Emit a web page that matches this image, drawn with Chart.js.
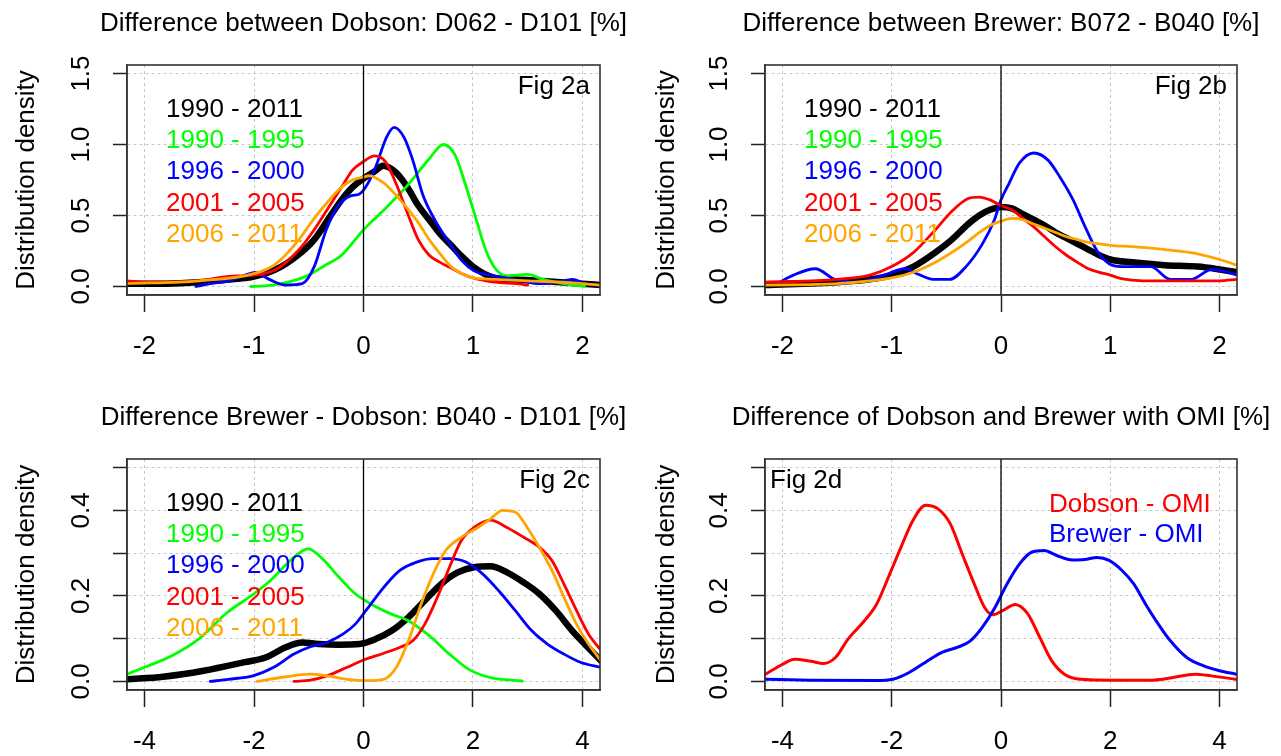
<!DOCTYPE html>
<html><head><meta charset="utf-8">
<script src="https://cdn.jsdelivr.net/npm/chart.js@4.4.1/dist/chart.umd.min.js"></script>
<style>
html,body{margin:0;padding:0;background:#fff;width:1281px;height:756px;overflow:hidden;}
canvas{position:absolute;}
</style></head><body>
<canvas id="pa" width="640" height="378" style="left:0px;top:0px"></canvas>
<canvas id="pb" width="641" height="378" style="left:640px;top:0px"></canvas>
<canvas id="pc" width="640" height="378" style="left:0px;top:378px"></canvas>
<canvas id="pd" width="641" height="378" style="left:640px;top:378px"></canvas>
<script>
// ---------- labels ----------
const periods = ['1990 - 2011', '1990 - 1995', '1996 - 2000', '2001 - 2005', '2006 - 2011'];
const omiLabels = ['Dobson - OMI', 'Brewer - OMI'];
const titles = [
  'Difference between Dobson: D062 - D101 [%]',
  'Difference between Brewer: B072 - B040 [%]',
  'Difference Brewer - Dobson: B040 - D101 [%]',
  'Difference of Dobson and Brewer with OMI [%]'
];
const figLabels = ['Fig 2a', 'Fig 2b', 'Fig 2c', 'Fig 2d'];
const yTitle = 'Distribution density';

// ---------- ticks ----------
const abXTicks = [-2, -1, 0, 1, 2];
const abXLabels = ['-2', '-1', '0', '1', '2'];
const abYTicks = [0, 0.5, 1.0, 1.5];
const abYLabels = ['0.0', '0.5', '1.0', '1.5'];
const cdXTicks = [-4, -2, 0, 2, 4];
const cdXLabels = ['-4', '-2', '0', '2', '4'];
const cdYTicks = [0, 0.1, 0.2, 0.3, 0.4, 0.5];
const cdYLabels = ['0.0', '', '0.2', '', '0.4', ''];

// ---------- Fig 2a ----------
const aAllX = [-2.16,-1.8,-1.5,-1.2,-1.0,-0.8,-0.6,-0.45,-0.3,-0.2,-0.1,0,0.1,0.18,0.3,0.4,0.5,0.6,0.7,0.8,0.9,1.0,1.1,1.2,1.4,1.6,1.8,2.0,2.16];
const aAllY = [0.02,0.02,0.03,0.05,0.07,0.12,0.22,0.33,0.50,0.61,0.70,0.76,0.81,0.85,0.80,0.70,0.57,0.47,0.37,0.29,0.21,0.14,0.09,0.06,0.05,0.04,0.03,0.02,0.01];
const aG1X = [-1.03,-0.9,-0.75,-0.6,-0.5,-0.35,-0.2,0,0.2,0.4,0.6,0.73,0.84,0.93,1.03,1.12,1.21,1.31,1.4,1.5,1.64,1.83,2.02];
const aG1Y = [0.0,0.005,0.02,0.05,0.08,0.15,0.22,0.40,0.55,0.71,0.90,1.0,0.92,0.72,0.47,0.25,0.12,0.075,0.08,0.085,0.05,0.02,0.0];
const aG2X = [-1.53,-1.4,-1.23,-1.08,-0.99,-0.86,-0.71,-0.56,-0.45,-0.34,-0.22,-0.11,-0.04,0.02,0.11,0.21,0.28,0.37,0.45,0.54,0.65,0.79,0.9,1.01,1.16,1.38,1.61,1.83,1.91,2.02,2.16];
const aG2Y = [0.0,0.02,0.04,0.08,0.10,0.05,0.01,0.02,0.14,0.40,0.58,0.64,0.65,0.70,0.84,1.05,1.12,1.05,0.89,0.65,0.47,0.30,0.18,0.11,0.08,0.05,0.02,0.04,0.05,0.02,0.01];
const aG3X = [-2.16,-2.0,-1.5,-1.25,-1.0,-0.8,-0.6,-0.45,-0.3,-0.2,-0.1,0,0.1,0.2,0.3,0.4,0.5,0.6,0.7,0.8,0.9,1.0,1.2,1.4,1.5];
const aG3Y = [0.04,0.03,0.04,0.07,0.08,0.12,0.25,0.40,0.58,0.70,0.82,0.88,0.92,0.88,0.72,0.52,0.33,0.22,0.17,0.13,0.09,0.06,0.03,0.02,0.01];
const aG4X = [-2.16,-1.5,-1.0,-0.8,-0.6,-0.45,-0.3,-0.2,-0.1,0,0.05,0.1,0.2,0.3,0.4,0.5,0.6,0.7,0.8,0.9,1.0,1.2,1.5,1.8,2.0,2.16];
const aG4Y = [0.02,0.04,0.09,0.16,0.32,0.48,0.62,0.70,0.75,0.77,0.78,0.77,0.72,0.64,0.55,0.45,0.33,0.23,0.14,0.09,0.06,0.05,0.04,0.03,0.02,0.01];

// ---------- Fig 2b ----------
const bAllX = [-2.16,-1.5,-1.2,-1.0,-0.8,-0.6,-0.45,-0.3,-0.2,-0.1,0,0.1,0.2,0.3,0.4,0.5,0.6,0.7,0.8,0.9,1.0,1.2,1.5,1.8,2.0,2.16];
const bAllY = [0.01,0.03,0.05,0.08,0.14,0.24,0.33,0.44,0.50,0.54,0.56,0.55,0.51,0.47,0.43,0.38,0.34,0.30,0.26,0.22,0.19,0.17,0.15,0.14,0.12,0.10];
const bG2X = [-2.05,-1.9,-1.7,-1.52,-1.33,-1.07,-0.88,-0.77,-0.62,-0.47,-0.32,-0.17,-0.06,0,0.07,0.17,0.3,0.43,0.54,0.66,0.77,0.88,0.99,1.1,1.37,1.55,1.74,1.93,2.08,2.16];
const bG2Y = [0.02,0.08,0.125,0.05,0.03,0.08,0.125,0.09,0.05,0.05,0.14,0.30,0.47,0.61,0.72,0.87,0.94,0.89,0.77,0.61,0.42,0.25,0.16,0.14,0.14,0.05,0.05,0.12,0.10,0.08];
const bG3X = [-2.16,-1.5,-1.2,-1.0,-0.8,-0.6,-0.45,-0.3,-0.2,-0.1,0,0.1,0.2,0.3,0.4,0.5,0.6,0.7,0.8,0.9,1.0,1.1,1.3,1.6,2.0,2.16];
const bG3Y = [0.03,0.05,0.08,0.14,0.24,0.40,0.53,0.62,0.63,0.61,0.57,0.54,0.48,0.42,0.35,0.28,0.22,0.17,0.125,0.10,0.08,0.055,0.04,0.04,0.04,0.05];
const bG4X = [-2.16,-1.5,-1.0,-0.8,-0.6,-0.45,-0.3,-0.2,-0.1,0,0.1,0.2,0.3,0.4,0.5,0.6,0.7,0.8,0.9,1.0,1.2,1.5,1.8,2.0,2.16];
const bG4Y = [0.01,0.02,0.06,0.10,0.17,0.24,0.32,0.38,0.43,0.46,0.48,0.47,0.44,0.41,0.38,0.35,0.33,0.31,0.30,0.29,0.28,0.26,0.23,0.19,0.15];

// ---------- Fig 2c ----------
const cAllX = [-4.32,-3.66,-2.92,-2.17,-1.79,-1.42,-1.12,-0.82,-0.45,-0.07,0.22,0.52,0.82,1.12,1.42,1.72,2.02,2.32,2.62,2.92,3.21,3.51,3.81,4.04,4.34];
const cAllY = [0.005,0.011,0.025,0.045,0.056,0.08,0.091,0.0875,0.086,0.0875,0.099,0.119,0.15,0.189,0.228,0.255,0.267,0.269,0.255,0.232,0.205,0.166,0.119,0.0875,0.048];
const cG1X = [-4.32,-4.0,-3.5,-3.0,-2.5,-2.0,-1.7,-1.4,-1.12,-1.01,-0.75,-0.45,-0.15,0.15,0.5,0.82,1.2,1.57,1.94,2.32,2.9];
const cG1Y = [0.017,0.033,0.06,0.10,0.16,0.205,0.236,0.275,0.305,0.31,0.287,0.244,0.205,0.18,0.158,0.142,0.107,0.064,0.027,0.009,0.001];
const cG2X = [-2.8,-2.47,-2.02,-1.64,-1.27,-0.97,-0.67,-0.37,-0.15,0.07,0.37,0.67,0.97,1.27,1.57,1.87,2.17,2.47,2.77,3.07,3.36,3.66,3.96,4.34];
const cG2Y = [0.0,0.005,0.013,0.033,0.064,0.081,0.091,0.111,0.134,0.17,0.22,0.26,0.279,0.287,0.287,0.279,0.252,0.212,0.166,0.119,0.0875,0.064,0.045,0.033];
const cG3X = [-1.27,-0.97,-0.67,-0.3,0,0.37,0.67,0.9,1.12,1.35,1.57,1.79,2.02,2.32,2.62,2.92,3.21,3.44,3.66,3.89,4.11,4.34];
const cG3Y = [0.0,0.003,0.013,0.033,0.05,0.066,0.08,0.095,0.134,0.197,0.267,0.33,0.36,0.377,0.36,0.3375,0.314,0.283,0.228,0.166,0.111,0.072];
const cG4X = [-1.94,-1.42,-0.97,-0.67,-0.3,0.07,0.37,0.6,0.82,1.05,1.27,1.5,1.79,2.09,2.32,2.54,2.77,2.99,3.21,3.44,3.66,3.89,4.11,4.34];
const cG4Y = [0.0,0.011,0.017,0.013,0.005,0.002,0.005,0.033,0.095,0.18,0.25,0.306,0.3375,0.36,0.38,0.40,0.396,0.36,0.314,0.26,0.197,0.134,0.0875,0.048];

// ---------- Fig 2d ----------
const dDobX = [-4.31,-4.0,-3.78,-3.48,-3.25,-3.03,-2.8,-2.5,-2.28,-2.06,-1.83,-1.61,-1.38,-1.16,-0.93,-0.71,-0.49,-0.3,-0.15,0.04,0.26,0.49,0.71,0.93,1.16,1.46,2.0,2.73,3.1,3.55,3.85,4.3];
const dDobY = [0.017,0.04,0.052,0.047,0.042,0.056,0.099,0.142,0.18,0.244,0.314,0.377,0.412,0.404,0.369,0.298,0.228,0.173,0.156,0.166,0.18,0.158,0.103,0.048,0.017,0.005,0.003,0.003,0.008,0.017,0.013,0.005];
const dBreX = [-4.31,-3.5,-2.28,-1.98,-1.68,-1.38,-1.08,-0.79,-0.56,-0.34,-0.11,0.11,0.34,0.56,0.79,1.01,1.31,1.53,1.76,1.98,2.21,2.43,2.65,2.88,3.1,3.4,3.7,4.0,4.3];
const dBreY = [0.005,0.003,0.002,0.005,0.021,0.045,0.068,0.08,0.095,0.127,0.173,0.228,0.275,0.302,0.306,0.295,0.284,0.285,0.29,0.283,0.26,0.228,0.18,0.134,0.095,0.056,0.037,0.025,0.017];

// ---------- styling ----------
const FONT = "'Liberation Sans', Arial, Helvetica, sans-serif";
const periodColors = ['#000000', '#00ff00', '#0000ff', '#ff0000', '#ffa500'];
const omiColors = ['#ff0000', '#0000ff'];

function pts(xs, ys) { return xs.map((x, i) => ({ x: x, y: ys[i] })); }
function ds(label, xs, ys, color, width) {
  return { label: label, data: pts(xs, ys), borderColor: color, backgroundColor: color,
    borderWidth: width, pointRadius: 0, fill: false, cubicInterpolationMode: 'monotone',
    borderJoinStyle: 'round', borderCapStyle: 'round' };
}

function makeDecor(cfg) {
  return {
    id: 'decor_' + cfg.id,
    afterDatasetsDraw(chart) {
      const ctx = chart.ctx, a = chart.chartArea, xs = chart.scales.x;
      ctx.save();
      const px = xs.getPixelForValue(0);
      ctx.strokeStyle = '#000'; ctx.lineWidth = 1.3; ctx.setLineDash([]);
      ctx.beginPath(); ctx.moveTo(px, a.top); ctx.lineTo(px, a.bottom); ctx.stroke();
      ctx.lineWidth = 1.6; ctx.strokeStyle = '#333';
      ctx.strokeRect(a.left, a.top, a.right - a.left, a.bottom - a.top);
      ctx.font = '26px ' + FONT; ctx.textBaseline = 'alphabetic';
      ctx.fillStyle = '#000'; ctx.textAlign = 'center';
      ctx.fillText(cfg.title, (a.left + a.right) / 2, a.top - 34);
      ctx.textAlign = cfg.figAlign;
      ctx.fillText(cfg.fig, cfg.figAlign === 'right' ? a.right - 10 : a.left + 5, a.top + 28.5);
      ctx.textAlign = 'left';
      cfg.legend.forEach((t, i) => {
        ctx.fillStyle = cfg.legendColors[i];
        ctx.fillText(t, a.left + cfg.legendDX, a.top + cfg.legendDY + i * cfg.legendGap);
      });
      ctx.restore();
    }
  };
}

function makeChart(cfg) {
  const tickFont = { family: FONT, size: 26 };
  return new Chart(document.getElementById(cfg.id), {
    type: 'line',
    data: { datasets: cfg.datasets },
    options: {
      responsive: false, animation: false, events: [],
      layout: { padding: { top: cfg.top, right: cfg.padRight, left: 0, bottom: 0 } },
      plugins: { legend: { display: false }, tooltip: { enabled: false }, title: { display: false } },
      scales: {
        x: {
          type: 'linear', min: cfg.xMin, max: cfg.xMax,
          afterBuildTicks: s => { s.ticks = cfg.xTicks.map(v => ({ value: v })); },
          afterFit: s => { s.height = cfg.xHeight; },
          ticks: { autoSkip: false, maxRotation: 0, minRotation: 0, padding: 19, color: '#000', font: tickFont,
            callback: (v, i) => cfg.xLabels[i] },
          grid: { color: '#c8c8c8', lineWidth: 1, tickLength: 17, tickColor: '#222', tickWidth: 1.5 },
          border: { display: true, color: '#333', width: 1.5, dash: [3, 3] }
        },
        y: {
          type: 'linear', min: cfg.yMin, max: cfg.yMax,
          afterBuildTicks: s => { s.ticks = cfg.yTicks.map(v => ({ value: v })); },
          afterFit: s => { s.width = cfg.yWidth; },
          ticks: { autoSkip: false, minRotation: 90, maxRotation: 90, crossAlign: 'center', padding: 13.5,
            color: '#000', font: tickFont, callback: (v, i) => cfg.yLabels[i] },
          grid: { color: '#c8c8c8', lineWidth: 1, tickLength: 14, tickColor: '#222', tickWidth: 1.5 },
          border: { display: true, color: '#333', width: 1.5, dash: [3, 3] },
          title: { display: true, text: yTitle, color: '#000', font: tickFont, padding: { top: 11, bottom: 0 } }
        }
      }
    },
    plugins: [makeDecor(cfg)]
  });
}

const abBase = { xMin: -2.16, xMax: 2.16, yMin: -0.06, yMax: 1.56, xTicks: abXTicks, xLabels: abXLabels,
  yTicks: abYTicks, yLabels: abYLabels, top: 65, xHeight: 83 };
const cdBase = { xMin: -4.32, xMax: 4.32, yMin: -0.02, yMax: 0.52, xTicks: cdXTicks, xLabels: cdXLabels,
  yTicks: cdYTicks, yLabels: cdYLabels, top: 81, xHeight: 66 };
const periodLegend = { legend: periods, legendColors: periodColors, legendDX: 39, legendDY: 51.5, legendGap: 31.4 };
const thin = 2.8, thick = 6.5;

makeChart(Object.assign({}, abBase, periodLegend, {
  id: 'pa', title: titles[0], fig: figLabels[0], figAlign: 'right', yWidth: 127, padRight: 40,
  datasets: [
    ds(periods[4], aG4X, aG4Y, periodColors[4], thin),
    ds(periods[3], aG3X, aG3Y, periodColors[3], thin),
    ds(periods[2], aG2X, aG2Y, periodColors[2], thin),
    ds(periods[1], aG1X, aG1Y, periodColors[1], thin),
    ds(periods[0], aAllX, aAllY, periodColors[0], thick)
  ]
}));
makeChart(Object.assign({}, abBase, periodLegend, {
  id: 'pb', title: titles[1], fig: figLabels[1], figAlign: 'right', yWidth: 125, padRight: 44,
  datasets: [
    ds(periods[4], bG4X, bG4Y, periodColors[4], thin),
    ds(periods[3], bG3X, bG3Y, periodColors[3], thin),
    ds(periods[2], bG2X, bG2Y, periodColors[2], thin),
    ds(periods[0], bAllX, bAllY, periodColors[0], thick)
  ]
}));
makeChart(Object.assign({}, cdBase, periodLegend, {
  id: 'pc', title: titles[2], fig: figLabels[2], figAlign: 'right', yWidth: 127, padRight: 40,
  datasets: [
    ds(periods[4], cG4X, cG4Y, periodColors[4], thin),
    ds(periods[3], cG3X, cG3Y, periodColors[3], thin),
    ds(periods[2], cG2X, cG2Y, periodColors[2], thin),
    ds(periods[1], cG1X, cG1Y, periodColors[1], thin),
    ds(periods[0], cAllX, cAllY, periodColors[0], thick)
  ]
}));
makeChart(Object.assign({}, cdBase, {
  id: 'pd', title: titles[3], fig: figLabels[3], figAlign: 'left', yWidth: 125, padRight: 44,
  legend: omiLabels, legendColors: omiColors, legendDX: 284, legendDY: 52.7, legendGap: 30,
  datasets: [
    ds(omiLabels[1], dBreX, dBreY, omiColors[1], 3),
    ds(omiLabels[0], dDobX, dDobY, omiColors[0], 3)
  ]
}));
</script>
</body></html>
